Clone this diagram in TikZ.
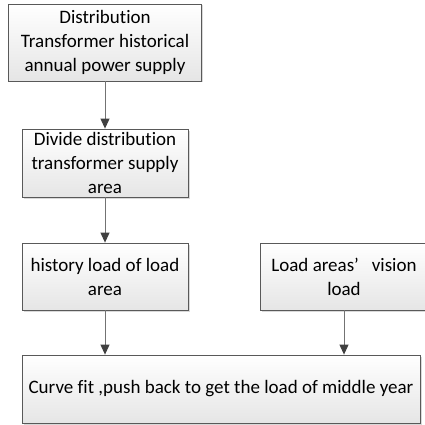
\documentclass[tikz,border=0pt]{standalone}
\usepackage{fontspec}
\setmainfont{Carlito}[Ligatures=NoCommon]
\usetikzlibrary{shadows,arrows.meta}
\begin{document}
\begin{tikzpicture}[x=1pt,y=-1pt,
  fbox/.style={draw=black!65, line width=0.8pt, top color=white, bottom color=black!10,
    drop shadow={shadow xshift=1.5pt, shadow yshift=-1.5pt, fill=black!25, opacity=0.6},
    inner sep=0pt, align=center, font=\fontsize{19}{24}\selectfont},
  arr/.style={draw=black!55, line width=0.9pt, -{Triangle[length=10pt,width=9pt,color=black!75]}}]
\useasboundingbox (0,0) rectangle (424,425);
\node[fbox, minimum width=193pt, minimum height=77pt] (b1) at (105,42.5) {Distribution\\Transformer historical\\annual power supply};
\node[fbox, minimum width=166pt, minimum height=68pt] (b2) at (105,163) {Divide distribution\\transformer supply\\area};
\node[fbox, minimum width=166pt, minimum height=67pt] (b3) at (105,276.5) {history load of load\\area};
\node[fbox, minimum width=168pt, minimum height=67pt] (b4) at (344,276.5) {Load areas’\ \ \ vision\\load};
\node[fbox, minimum width=398pt, minimum height=68pt] (b5) at (221,389) {Curve fit ,push back to get the load of middle year};
\draw[arr] (b1.south) -- (b2.north);
\draw[arr] (b2.south) -- (b3.north);
\draw[arr] (b3.south) -- (b3.south |- b5.north);
\draw[arr] (b4.south) -- (b4.south |- b5.north);
\end{tikzpicture}
\end{document}
